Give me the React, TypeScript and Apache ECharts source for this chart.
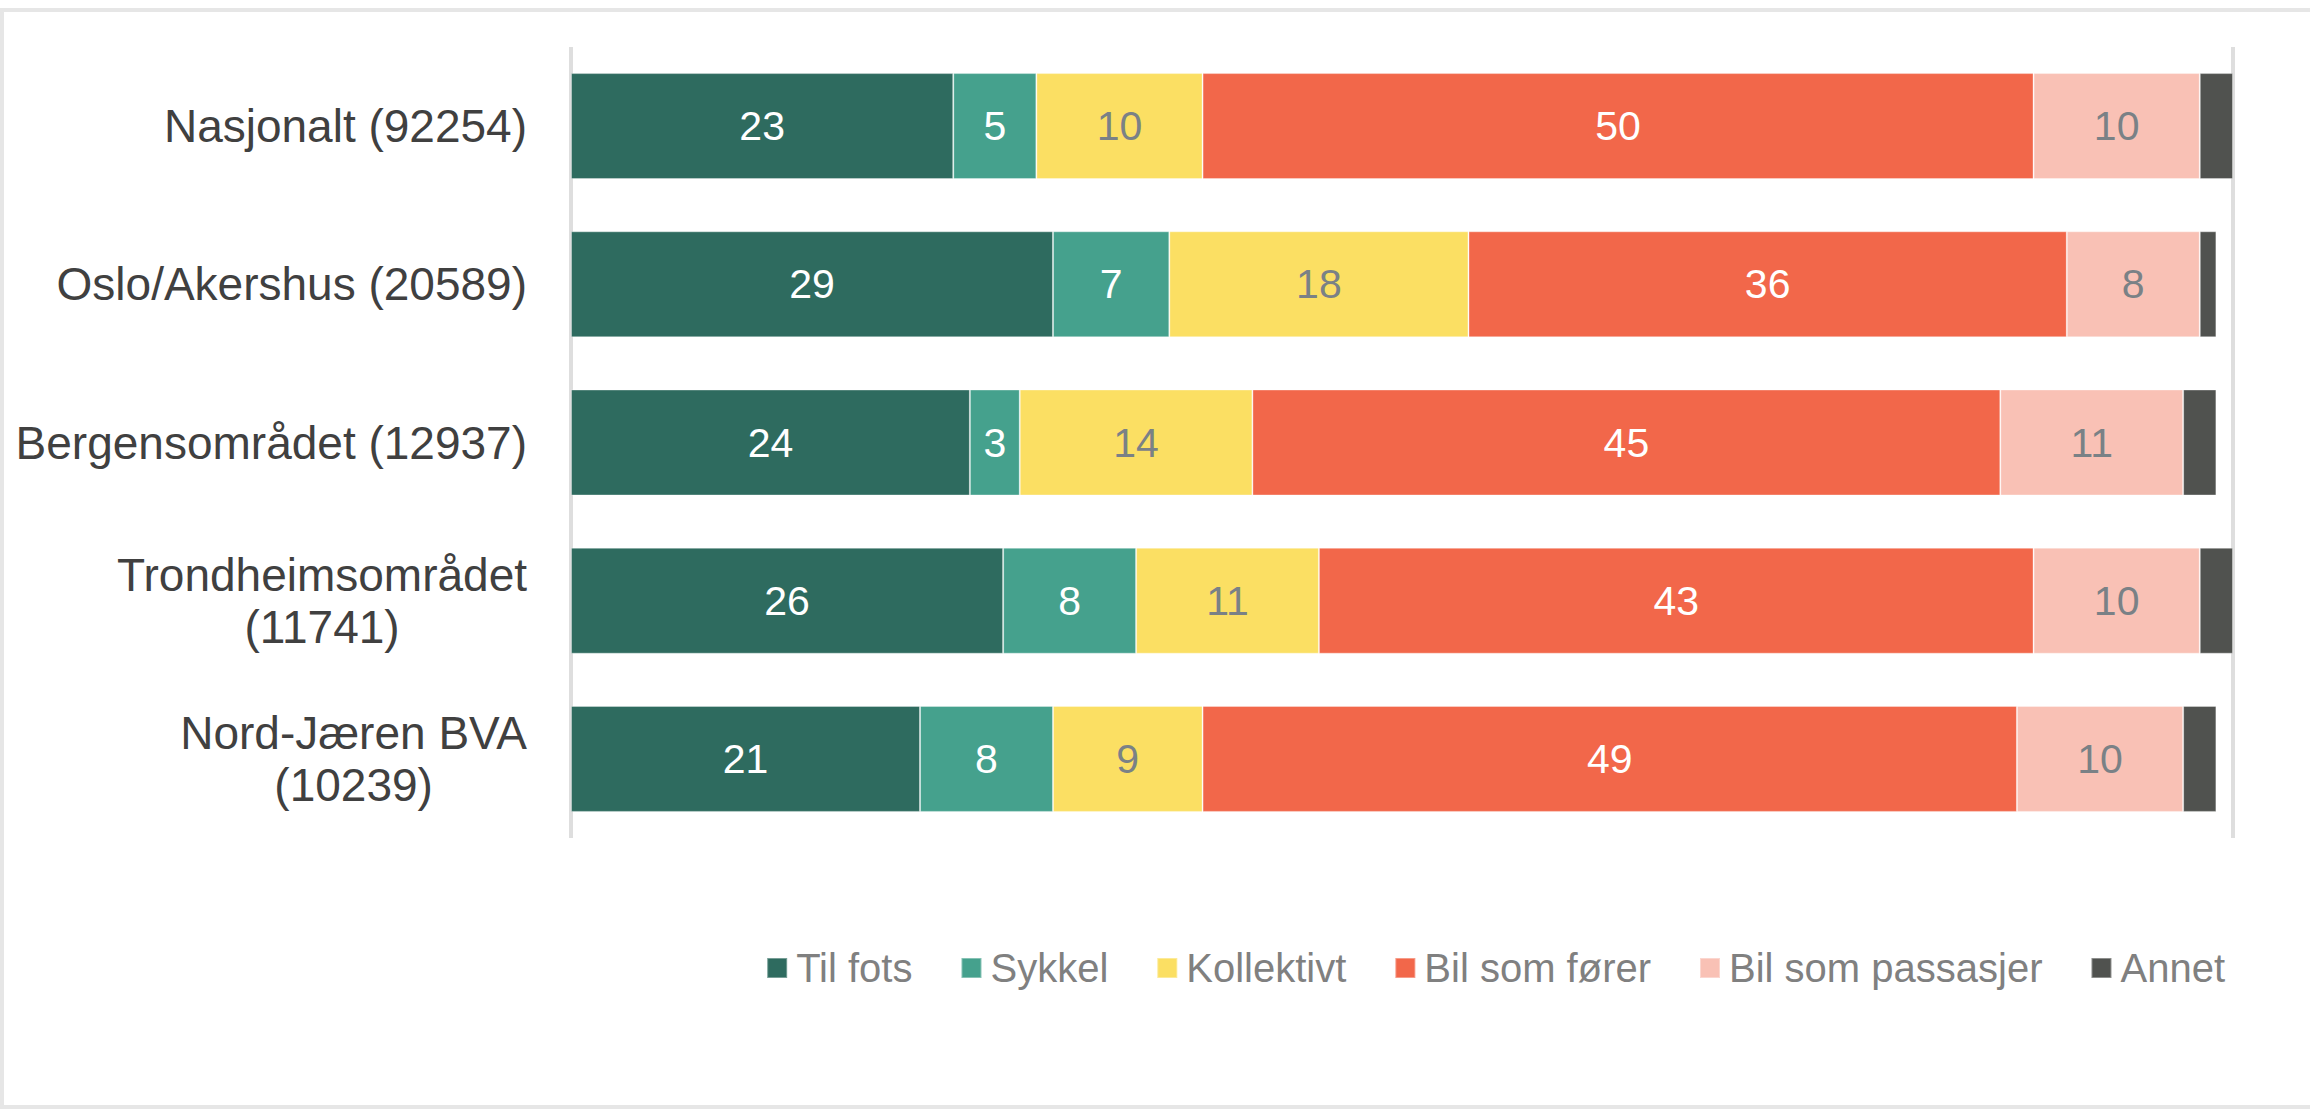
import React, { useEffect, useRef } from "react";
import * as echarts from "echarts";

const categories = [
  "Nasjonalt (92254)",
  "Oslo/Akershus (20589)",
  "Bergensområdet (12937)",
  "Trondheimsområdet\n(11741)",
  "Nord-Jæren BVA\n(10239)",
];
const seriesNames = ["Til fots", "Sykkel", "Kollektivt", "Bil som fører", "Bil som passasjer", "Annet"];
const tilFots = [23, 29, 24, 26, 21];
const sykkel = [5, 7, 3, 8, 8];
const kollektivt = [10, 18, 14, 11, 9];
const bilForer = [50, 36, 45, 43, 49];
const bilPassasjer = [10, 8, 11, 10, 10];
const annet = [2, 1, 2, 2, 2];
const colors = ["#2e6b5f", "#45a18d", "#fbdf63", "#f2674a", "#f9c1b5", "#50524f"];
const labelColors = ["#ffffff", "#ffffff", "#7a8186", "#ffffff", "#7a8186", "#ffffff"];

export default function App() {
  const ref = useRef<HTMLDivElement>(null);
  useEffect(() => {
    document.body.style.margin = "0";
    const chart = echarts.init(ref.current!, null, { renderer: "svg" });
    const values = [tilFots, sykkel, kollektivt, bilForer, bilPassasjer, annet];
    chart.setOption({
      animation: false,
      backgroundColor: "#ffffff",
      textStyle: { fontFamily: "Liberation Sans, Arial, sans-serif" },
      graphic: [
        {
          type: "rect",
          shape: { x: 2, y: 10, width: 2330, height: 1097 },
          style: { fill: "none", stroke: "#e6e6e6", lineWidth: 4 },
          silent: true,
          z: -1,
        },
      ],
      grid: { left: 571, right: 77, top: 47, bottom: 271, containLabel: false },
      legend: {
        data: seriesNames,
        right: 80,
        top: 943,
        icon: "rect",
        itemWidth: 20,
        itemHeight: 20,
        itemGap: 48,
        textStyle: {
          fontSize: 40,
          color: "#808080",
          fontFamily: "Liberation Sans, Arial, sans-serif",
          padding: [0, 0, 0, 4],
        },
      },
      xAxis: {
        type: "value",
        min: 0,
        max: 100,
        interval: 100,
        axisLabel: { show: false },
        axisLine: { show: false },
        axisTick: { show: false },
        splitLine: { show: true, lineStyle: { color: "#dedede", width: 4 } },
      },
      yAxis: {
        type: "category",
        data: categories,
        inverse: true,
        axisLine: { show: false },
        axisTick: { show: false },
        axisLabel: {
          margin: 44,
          fontSize: 46,
          color: "#404040",
          lineHeight: 52,
          fontFamily: "Liberation Sans, Arial, sans-serif",
          formatter: (v: string) =>
            v
              .split("\n")
              .map((l) => "{c|" + l + "}")
              .join("\n"),
          rich: {
            c: {
              align: "center",
              fontSize: 46,
              lineHeight: 52,
              color: "#404040",
              fontFamily: "Liberation Sans, Arial, sans-serif",
            },
          },
        },
      },
      series: seriesNames.map((name, i) => ({
        name,
        type: "bar",
        stack: "total",
        barWidth: "67%",
        data: values[i],
        itemStyle: { color: colors[i], borderColor: "rgba(255,255,255,0.35)", borderWidth: 1 },
        label: {
          show: i < 5,
          position: "inside",
          fontSize: 41,
          color: labelColors[i],
          fontFamily: "Liberation Sans, Arial, sans-serif",
          formatter: "{c}",
        },
      })),
    });
    return () => chart.dispose();
  }, []);
  return <div ref={ref} style={{ width: 2310, height: 1109 }} />;
}
